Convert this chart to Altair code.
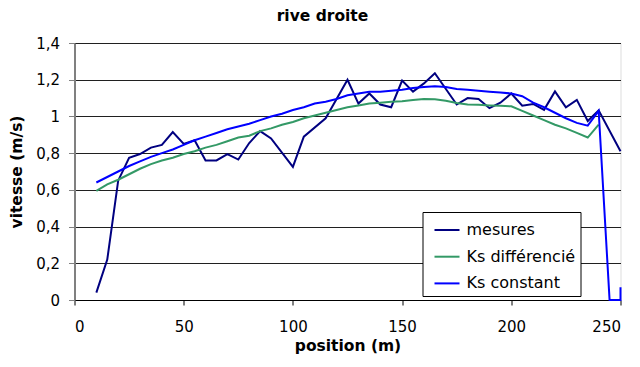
import altair as alt
import pandas as pd

# ---- data ----
series_names = ["mesures", "Ks différencié", "Ks constant"]
series_colors = ["#000080", "#339966", "#0000FF"]

pos_mesures = [10, 15, 20, 25, 30, 35, 40, 45, 50, 55, 60, 65, 70, 75, 80, 85, 90,
               100, 105, 115, 125, 130, 135, 140, 145, 150, 155, 160, 165,
               175, 180, 185, 190, 195, 200, 205, 210, 215, 220, 225, 230, 235, 240, 250]
vit_mesures = [0.04, 0.22, 0.65, 0.775, 0.795, 0.83, 0.845, 0.915, 0.85, 0.87, 0.76, 0.76,
               0.795, 0.765, 0.855, 0.92, 0.88,
               0.725, 0.89, 0.99, 1.2, 1.07, 1.125, 1.065, 1.05, 1.195, 1.135, 1.18, 1.235,
               1.065, 1.10, 1.095, 1.045, 1.075, 1.125, 1.058, 1.068, 1.036, 1.136, 1.05,
               1.09, 0.975, 1.033, 0.81]

pos_ks_diff = [10, 15, 20, 25, 30, 35, 40, 45, 50, 55, 60, 65, 70, 75, 80, 85, 90, 95,
               100, 105, 110, 115, 120, 125, 130, 135, 140, 145, 150, 155, 160, 165, 170,
               175, 180, 185, 190, 195, 200, 205, 210, 215, 220, 225, 230, 235, 240]
vit_ks_diff = [0.595, 0.63, 0.655, 0.685, 0.715, 0.74, 0.76, 0.775, 0.795, 0.81, 0.83,
               0.845, 0.865, 0.885, 0.895, 0.92, 0.935, 0.955, 0.97, 0.99, 1.005, 1.02,
               1.035, 1.05, 1.06, 1.07, 1.075, 1.08, 1.083, 1.09, 1.095, 1.093, 1.085,
               1.073, 1.065, 1.063, 1.06, 1.058, 1.055, 1.03, 1.005, 0.98, 0.955, 0.935,
               0.91, 0.885, 0.955]

pos_ks_const = [10, 15, 20, 25, 30, 35, 40, 45, 50, 55, 60, 65, 70, 75, 80, 85, 90, 95,
                100, 105, 110, 115, 120, 125, 130, 135, 140, 145, 150, 155, 160, 165, 170,
                175, 180, 185, 190, 195, 200, 205, 210, 215, 220, 225, 230, 235, 240,
                245, 250, 250]
vit_ks_const = [0.64, 0.67, 0.70, 0.73, 0.755, 0.78, 0.80, 0.82, 0.845, 0.87, 0.89, 0.91,
                0.93, 0.945, 0.96, 0.98, 1.00, 1.015, 1.035, 1.05, 1.07, 1.08, 1.095, 1.115,
                1.125, 1.135, 1.135, 1.14, 1.145, 1.155, 1.16, 1.165, 1.16, 1.15, 1.145,
                1.14, 1.135, 1.13, 1.125, 1.11, 1.075, 1.05, 1.02, 0.99, 0.965, 0.95, 1.03,
                0.0, 0.0, 0.07]

x_ticks = [0, 50, 100, 150, 200, 250]
y_ticks = [0, 0.2, 0.4, 0.6, 0.8, 1.0, 1.2, 1.4]

rows = []
for name, xs, ys in zip(series_names,
                        [pos_mesures, pos_ks_diff, pos_ks_const],
                        [vit_mesures, vit_ks_diff, vit_ks_const]):
    for i, (xv, yv) in enumerate(zip(xs, ys)):
        rows.append({"serie": name, "position": xv, "vitesse": yv, "ordre": i})
df = pd.DataFrame(rows)

FONT = "DejaVu Sans"

chart = alt.Chart(df).mark_line(strokeWidth=2).encode(
    x=alt.X("position:Q",
            scale=alt.Scale(domain=[0, 250], nice=False),
            axis=alt.Axis(values=x_ticks, title="position (m)", grid=False,
                          domainColor="black", domainWidth=1,
                          tickColor="black", tickSize=5,
                          labelFont=FONT, labelFontSize=15, labelColor="black",
                          labelPadding=14,
                          titleFont=FONT, titleFontSize=15.5, titleFontWeight="bold",
                          titleColor="black", titlePadding=4)),
    y=alt.Y("vitesse:Q",
            scale=alt.Scale(domain=[0, 1.4], nice=False),
            axis=alt.Axis(values=y_ticks, title="vitesse (m/s)", grid=True,
                          gridColor="#202020", gridWidth=1,
                          domainColor="#808080", domainWidth=2,
                          tickColor="#808080", tickSize=6,
                          labelExpr="replace(format(datum.value, '.1~f'), '.', ',')",
                          labelFont=FONT, labelFontSize=15, labelColor="black",
                          labelPadding=9,
                          titleFont=FONT, titleFontSize=15.5, titleFontWeight="bold",
                          titleColor="black", titlePadding=11)),
    color=alt.Color("serie:N",
                    scale=alt.Scale(domain=series_names, range=series_colors),
                    sort=series_names,
                    legend=alt.Legend(orient="none", legendX=348, legendY=169,
                                      title=None, symbolType="stroke",
                                      symbolStrokeWidth=2, symbolSize=625,
                                      labelFont=FONT, labelFontSize=16,
                                      labelColor="black",
                                      strokeColor="black", fillColor="white",
                                      padding=4.5, rowPadding=4.7, symbolOffset=6.5,
                                      labelOffset=6, cornerRadius=0)),
    order=alt.Order("ordre:Q"),
).properties(
    width=546,
    height=257,
    title=alt.TitleParams("rive droite", font=FONT, fontSize=15.5, fontWeight="bold",
                          color="black", anchor="middle", dx=-25, offset=12),
    autosize=alt.AutoSizeParams(type="none"),
    padding={"left": 66.5, "top": 35, "right": 11, "bottom": 59},
).configure_view(stroke="#909090", strokeWidth=1).configure(background="white")

chart.save("out.html", embed_options={"renderer": "svg", "actions": False})
